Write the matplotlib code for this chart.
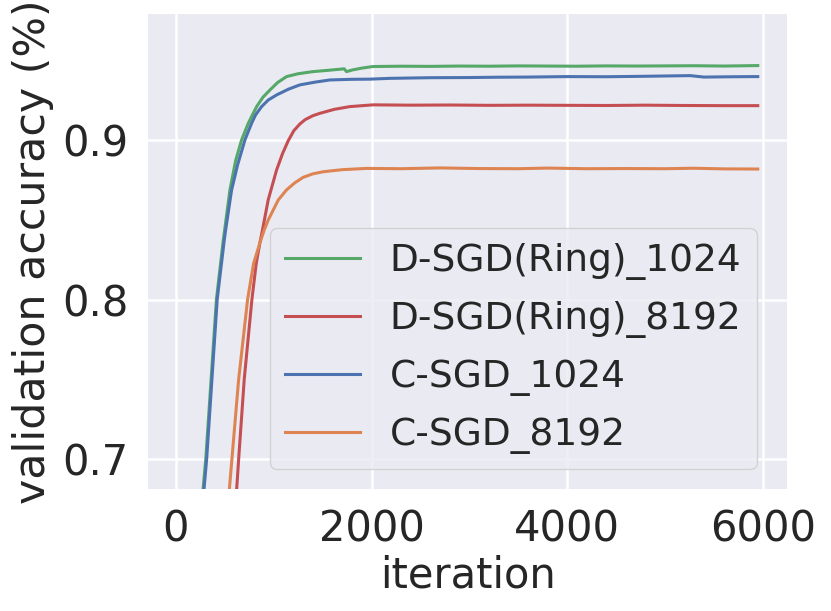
import matplotlib
matplotlib.use("Agg")
import matplotlib.pyplot as plt

# ---------------- data ----------------
green_iter = [10, 200, 276, 305, 414, 484, 552, 610, 671, 739, 825, 890, 961, 1040,
              1131, 1250, 1400, 1550, 1676, 1720, 1744, 1800, 1900, 2015, 2300, 2600,
              2900, 3200, 3500, 3800, 4100, 4400, 4700, 5000, 5300, 5600, 5950]
green_acc = [0.10, 0.55, 0.6807, 0.7002, 0.8003, 0.8373, 0.8687, 0.8870, 0.9000, 0.9104,
             0.9209, 0.9268, 0.9313, 0.9360, 0.9397, 0.9415, 0.9428, 0.9436, 0.9443,
             0.9446, 0.9428, 0.9438, 0.9450, 0.9460, 0.9462, 0.9461, 0.9463, 0.9462,
             0.9464, 0.9463, 0.9462, 0.9464, 0.9463, 0.9464, 0.9465, 0.9463, 0.9466]

red_iter = [10, 500, 620, 641, 698, 777, 821, 858, 886, 943, 1029, 1090, 1148, 1205,
            1267, 1320, 1400, 1472, 1620, 1778, 2015, 2400, 2800, 3200, 3600, 4000,
            4400, 4800, 5200, 5600, 5950]
red_acc = [0.10, 0.55, 0.6805, 0.7000, 0.7500, 0.8003, 0.8227, 0.8355, 0.8440, 0.8624,
           0.8812, 0.8915, 0.8995, 0.9058, 0.9100, 0.9127, 0.9152, 0.9167, 0.9192,
           0.9209, 0.9220, 0.9218, 0.9219, 0.9217, 0.9218, 0.9217, 0.9216, 0.9218,
           0.9216, 0.9215, 0.9215]

blue_iter = [10, 200, 286, 314, 422, 494, 508, 569, 630, 705, 773, 814, 876, 943, 1029,
             1150, 1267, 1420, 1574, 1800, 1983, 2187, 2597, 3000, 3280, 3600, 4000,
             4400, 4800, 5258, 5400, 5700, 5950]
blue_acc = [0.10, 0.52, 0.6807, 0.7002, 0.8003, 0.8373, 0.8436, 0.8687, 0.8843, 0.9000,
            0.9104, 0.9157, 0.9209, 0.9250, 0.9282, 0.9318, 0.9345, 0.9362, 0.9376,
            0.9380, 0.9381, 0.9386, 0.9390, 0.9391, 0.9393, 0.9394, 0.9397, 0.9396,
            0.9399, 0.9403, 0.9394, 0.9396, 0.9397]

orange_iter = [10, 450, 545, 572, 641, 733, 794, 858, 902, 943, 1046, 1130, 1216, 1301,
               1400, 1506, 1700, 1949, 2300, 2700, 3100, 3500, 3800, 4200, 4600, 5000,
               5290, 5600, 5950]
orange_acc = [0.10, 0.55, 0.6805, 0.7000, 0.7500, 0.8003, 0.8227, 0.8355, 0.8436, 0.8498,
              0.8624, 0.8687, 0.8732, 0.8766, 0.8788, 0.8801, 0.8814, 0.8822, 0.8820,
              0.8825, 0.8821, 0.8820, 0.8824, 0.8820, 0.8821, 0.8820, 0.8823, 0.8819,
              0.8818]

labels = ["D-SGD(Ring)_1024", "D-SGD(Ring)_8192", "C-SGD_1024", "C-SGD_8192"]
colors = ["#55A868", "#C44E52", "#4C72B0", "#DD8452"]
x_ticks = [0, 2000, 4000, 6000]
y_ticks = [0.7, 0.8, 0.9]

# ---------------- figure ----------------
W, H = 831, 611
fig = plt.figure(figsize=(W / 100, H / 100), dpi=100)
left, right, top, bottom = 148, 787, 14, 489
ax = fig.add_axes([left / W, 1 - bottom / H, (right - left) / W, (bottom - top) / H])
ax.set_facecolor("#EAEAF2")
for s in ax.spines.values():
    s.set_visible(False)
ax.grid(True, color="white", linewidth=1.8)
ax.set_axisbelow(True)

series = [(green_iter, green_acc), (red_iter, red_acc),
          (blue_iter, blue_acc), (orange_iter, orange_acc)]
for (xs, ys), lab, col in zip(series, labels, colors):
    ax.plot(xs, ys, color=col, linewidth=2.2, label=lab)

ax.set_xlim(-286, 6249)
ax.set_ylim(0.6814, 0.9789)
ax.set_xticks(x_ticks)
ax.set_yticks(y_ticks)
ax.tick_params(axis="both", length=0, labelsize=30, pad=14, colors="#262626")
ax.set_xlabel("iteration", fontsize=30, color="#262626", labelpad=3)
ax.set_ylabel("validation accuracy (%)", fontsize=30.8, color="#262626", labelpad=6)

ax_w = right - left
ax_h = bottom - top
leg = ax.legend(loc="lower right",
                bbox_to_anchor=((756.5 - left) / ax_w, (bottom - 469) / ax_h),
                borderaxespad=0, fontsize=27, frameon=True, fancybox=True,
                labelspacing=0.56, handlelength=2.0, handletextpad=0.8,
                borderpad=0.4)
fr = leg.get_frame()
fr.set_facecolor("#EAEAF2")
fr.set_alpha(0.8)
fr.set_edgecolor("0.8")
fr.set_linewidth(1.0)
for t in leg.get_texts():
    t.set_color("#262626")

fig.savefig("out.png", dpi=100)
